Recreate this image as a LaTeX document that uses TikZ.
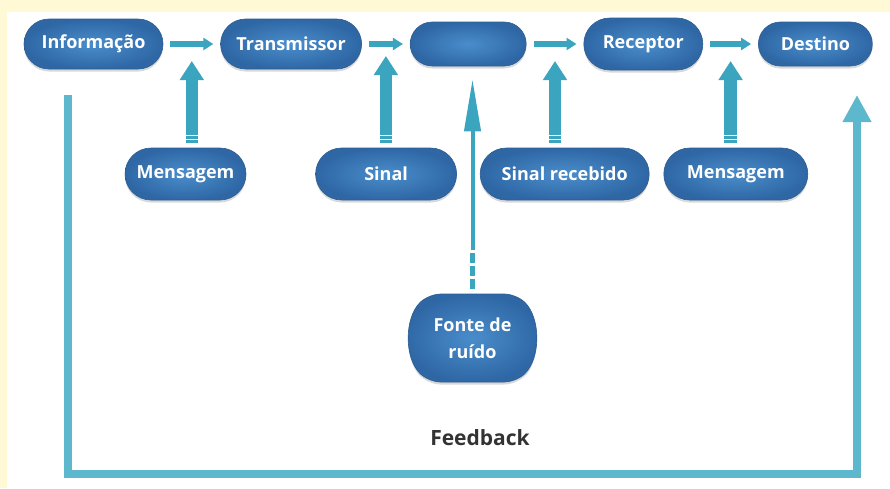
\documentclass[tikz,border=0pt]{standalone}
\usepackage{fontspec}
\setmainfont{Open Sans}
\usepackage{xcolor}
\usetikzlibrary{arrows.meta,positioning,calc,shapes.misc,shadows,backgrounds}
\definecolor{commBlueLight}{HTML}{4A8DCB}
\definecolor{commBlueDark}{HTML}{2F67A5}
\definecolor{commEdge}{HTML}{2A5C93}
\definecolor{commTeal}{HTML}{3BA4BE}
\definecolor{commTealLight}{HTML}{5DB8CD}
\definecolor{commCream}{HTML}{FFF9D6}
\definecolor{commText}{HTML}{333333}

\begin{document}
\begin{tikzpicture}[
    x=1pt, y=-1pt,
    font=\fontsize{18}{27}\selectfont\bfseries,
    stage/.style={
        rounded rectangle,
        draw=commEdge,
        line width=0.6pt,
        inner color=commBlueLight,
        outer color=commBlueDark,
        text=white,
        minimum height=50pt,
        inner sep=2pt,
        drop shadow={shadow xshift=0pt, shadow yshift=-2.5pt, opacity=0.3}
    },
    noisebox/.style={
        stage,
        rounded rectangle arc length=90,
        rounded corners=12pt,
        minimum width=115pt,
        minimum height=88pt,
        align=center
    },
    hflow/.style={
        -{Triangle[length=10pt,width=12pt]},
        line width=5.5pt,
        draw=commTeal,
        shorten <=7pt,
        shorten >=7pt
    },
    vflow/.style={
        -{Triangle[length=19pt,width=23pt]},
        line width=12.5pt,
        draw=commTeal
    },
    vtail/.style={
        line width=12.5pt,
        draw=commTeal,
        dash pattern=on 2.5pt off 1.5pt
    },
    noise/.style={
        -{Triangle[length=52pt,width=16pt]},
        line width=4pt,
        draw=commTeal
    },
    noisetail/.style={
        line width=5.5pt,
        draw=commTeal,
        dash pattern=on 10pt off 3pt
    },
    feedback/.style={
        -{Triangle[length=27pt,width=27pt]},
        line width=8.5pt,
        draw=commTealLight
    },
    fblabel/.style={
        font=\fontsize{21}{25}\selectfont\bfseries,
        text=commText
    }
]

% -------------------- Page ----------------------------------
\useasboundingbox (0,0) rectangle (890,488);
\fill[commCream] (0,0) rectangle (890,488);
\fill[white] (7,12) rectangle (890,488);

% -------------------- Top row -------------------------------
\node[stage, minimum width=143pt] (info) at (93.5,44) {Informação};
\node[stage, minimum width=145pt, right=57pt of info] (trans) {Transmissor};
\node[stage, minimum width=120pt, minimum height=44pt, right=48pt of trans] (canal) {};
\node[stage, minimum width=123pt, minimum height=52pt, right=57pt of canal] (recep) {Receptor};
\node[stage, minimum width=118pt, minimum height=44pt, right=55pt of recep] (dest) {Destino};

% -------------------- Bottom row ----------------------------
\node[stage, minimum width=125pt, minimum height=52pt] (msg1) at (185.5,174) {Mensagem};
\node[stage, minimum width=145pt, minimum height=52pt, right=69pt of msg1] (sinal) {Sinal};
\node[stage, minimum width=173pt, minimum height=52pt, right=23pt of sinal] (sinalrec) {Sinal recebido};
\node[stage, minimum width=148pt, minimum height=52pt, right=14pt of sinalrec] (msg2) {Mensagem};

\node[noisebox] (fonte) at (472.5,338) {Fonte de\\ruído};

\node[fblabel] (fbtext) at (480,438) {Feedback};

% -------------------- Joints --------------------------------
\coordinate (j1) at ($(info.east)!0.5!(trans.west)$);
\coordinate (j2) at ($(trans.east)!0.5!(canal.west)$);
\coordinate (j3) at ($(canal.east)!0.5!(recep.west)$);
\coordinate (j4) at ($(recep.east)!0.5!(dest.west)$);
\coordinate (fbL) at (68,95);
\coordinate (fbR) at (857,95);
\coordinate (fbBase) at (68,474);

% -------------------- Flows ---------------------------------
\draw[hflow] (info.east) -- (trans.west);
\draw[hflow] (trans.east) -- (canal.west);
\draw[hflow] (canal.east) -- (recep.west);
\draw[hflow] (recep.east) -- (dest.west);

\draw[vflow] ([yshift=16pt]j1 |- msg1.north) -- ([yshift=-17pt]j1);
\draw[vflow] ([yshift=16pt]j2 |- sinal.north) -- ([yshift=-12pt]j2);
\draw[vflow] ([yshift=16pt]j3 |- sinalrec.north) -- ([yshift=-17pt]j3);
\draw[vflow] ([yshift=16pt]j4 |- msg2.north) -- ([yshift=-17pt]j4);
\foreach \j/\n in {j1/msg1, j2/sinal, j3/sinalrec, j4/msg2}
  \draw[vtail] ([yshift=5pt]\j |- \n.north) -- ([yshift=16pt]\j |- \n.north);

\draw[noise] ([yshift=44pt]fonte.north) -- ([yshift=-13pt]fonte.north |- canal.south);
\draw[noisetail] ([yshift=5pt]fonte.north) -- ([yshift=44pt]fonte.north);

\draw[feedback] (fbL) |- (fbR |- fbBase) -- (fbR);

\end{tikzpicture}
\end{document}
